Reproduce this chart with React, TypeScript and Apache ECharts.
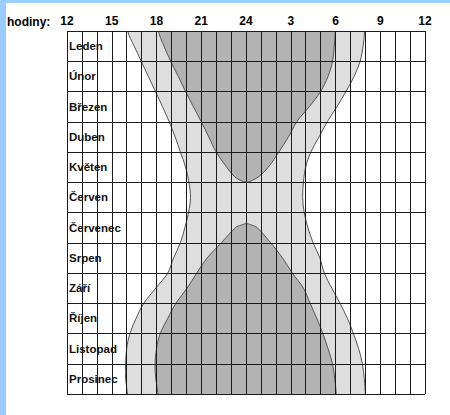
import React, { useEffect, useRef } from "react";
import * as echarts from "echarts";

const months = ["Leden", "Únor", "Březen", "Duben", "Květen", "Červen", "Červenec", "Srpen", "Září", "Říjen", "Listopad", "Prosinec"];
const hourTicks = ["12", "15", "18", "21", "24", "3", "6", "9", "12"];

// [hours after noon, month position (0 = 1 Jan, 12 = 31 Dec)]
const sunset = [
  [4.07, 0], [4.5, 0.5], [4.98, 1], [5.45, 1.5], [5.93, 2], [6.4, 2.5], [6.85, 3], [7.25, 3.5],
  [7.6, 4], [7.95, 4.5], [8.17, 5], [8.28, 5.5], [8.15, 6], [7.9, 6.5], [7.6, 7], [7.15, 7.5],
  [6.75, 8], [5.95, 8.5], [5.15, 9], [4.63, 9.5], [4.22, 10], [4.0, 10.5], [3.93, 11], [3.93, 11.5], [4.05, 12],
];
const sunrise = [
  [19.95, 0], [19.85, 0.5], [19.65, 1], [19.25, 1.5], [18.7, 2], [18.1, 2.5], [17.45, 3], [16.9, 3.5],
  [16.35, 4], [16.0, 4.5], [15.85, 5], [15.8, 5.5], [15.9, 6], [16.15, 6.5], [16.5, 7], [16.95, 7.5],
  [17.25, 8], [17.75, 8.5], [18.3, 9], [18.8, 9.5], [19.2, 10], [19.55, 10.5], [19.8, 11], [19.93, 11.5], [20.0, 12],
];
const nightStartFirst = [
  [6.13, 0], [6.5, 0.5], [6.95, 1], [7.46, 1.5], [7.95, 2], [8.47, 2.5], [9.0, 3], [9.5, 3.5],
  [10.0, 4], [10.7, 4.5], [11.2, 4.8], [11.6, 4.93], [12.04, 5.0],
];
const nightEndFirst = [
  [17.98, 0], [17.92, 0.5], [17.8, 1], [17.5, 1.5], [17.0, 2], [16.25, 2.5], [15.4, 3], [14.85, 3.5],
  [14.2, 4], [13.5, 4.5], [12.9, 4.8], [12.45, 4.93],
];
const nightStartSecond = [
  [12.04, 6.37], [11.65, 6.42], [11.3, 6.5], [10.35, 7], [9.4, 7.5], [8.7, 8], [8.05, 8.5], [7.3, 9],
  [6.75, 9.5], [6.25, 10], [6.0, 10.5], [5.9, 11], [5.95, 11.5], [6.1, 12],
];
const nightEndSecond = [
  [12.4, 6.42], [12.75, 6.5], [13.65, 7], [14.45, 7.5], [15.1, 8], [15.85, 8.5], [16.3, 9], [16.75, 9.5],
  [17.15, 10], [17.5, 10.5], [17.8, 11], [17.95, 11.5], [18.05, 12],
];

const EXT = 0.5;

function lightPolygon() {
  const rev = sunrise.slice().reverse();
  return [
    [sunset[0][0], -EXT],
    ...sunset,
    [sunset[sunset.length - 1][0], 12 + EXT],
    [sunrise[sunrise.length - 1][0], 12 + EXT],
    ...rev,
    [sunrise[0][0], -EXT],
  ];
}
function upperPolygon() {
  return [
    [nightStartFirst[0][0], -EXT],
    ...nightStartFirst,
    ...nightEndFirst.slice().reverse(),
    [nightEndFirst[0][0], -EXT],
  ];
}
function lowerPolygon() {
  return [
    ...nightStartSecond,
    [nightStartSecond[nightStartSecond.length - 1][0], 12 + EXT],
    [nightEndSecond[nightEndSecond.length - 1][0], 12 + EXT],
    ...nightEndSecond.slice().reverse(),
  ];
}

function makeSeries(poly: number[][], fill: string) {
  return {
    type: "custom",
    coordinateSystem: "cartesian2d",
    xAxisIndex: 0,
    yAxisIndex: 0,
    z: 2,
    silent: true,
    data: [[0, 0]],
    renderItem: (params: any, api: any) => {
      const pts = poly.map((p) => api.coord(p));
      const cs = params.coordSys;
      return {
        type: "group",
        clipPath: { type: "rect", shape: { x: cs.x, y: cs.y, width: cs.width, height: cs.height } },
        children: [
          {
            type: "polygon",
            shape: { points: pts, smooth: 0.35 },
            style: { fill, stroke: "#555", lineWidth: 1 },
          },
        ],
      };
    },
  };
}

export default function App() {
  const ref = useRef<HTMLDivElement>(null);
  useEffect(() => {
    const chart = echarts.init(ref.current as HTMLDivElement, null, { renderer: "svg" });
    const option: any = {
      animation: false,
      backgroundColor: "#ffffff",
      grid: { left: 67, top: 31, width: 358, height: 363, containLabel: false },
      xAxis: {
        type: "value",
        position: "top",
        min: 0,
        max: 24,
        interval: 1,
        z: 10,
        axisLine: { show: false, onZero: false },
        axisTick: { show: false },
        axisLabel: {
          show: true,
          margin: 4,
          showMinLabel: true,
          showMaxLabel: true,
          color: "#000",
          fontFamily: "Liberation Sans",
          fontWeight: "bold",
          fontSize: 12,
          formatter: (v: number) => (v % 3 === 0 ? hourTicks[v / 3] : ""),
        },
        splitLine: { show: true, lineStyle: { color: "#1a1a1a", width: 1 } },
      },
      yAxis: [
        {
          type: "value",
          min: 0,
          max: 12,
          interval: 1,
          inverse: true,
          z: 10,
          axisLine: { show: false, onZero: false },
          axisTick: { show: false },
          axisLabel: { show: false },
          splitLine: { show: true, lineStyle: { color: "#1a1a1a", width: 1 } },
        },
        {
          type: "category",
          data: months,
          inverse: true,
          position: "left",
          z: 11,
          axisLine: { show: false, onZero: false },
          axisTick: { show: false },
          splitLine: { show: false },
          axisLabel: {
            inside: true,
            margin: 2,
            color: "#111",
            fontFamily: "Liberation Sans",
            fontWeight: "bold",
            fontSize: 11.5,
          },
        },
      ],
      series: [
        makeSeries(lightPolygon(), "#dedede"),
        makeSeries(upperPolygon(), "#b3b3b3"),
        makeSeries(lowerPolygon(), "#b3b3b3"),
      ],
      graphic: [
        { type: "rect", shape: { x: 0, y: 0, width: 6, height: 415 }, style: { fill: "#99ccff" }, silent: true },
        { type: "rect", shape: { x: 0, y: 0, width: 450, height: 3 }, style: { fill: "#99ccff" }, silent: true },
        {
          type: "text",
          style: {
            x: 7,
            y: 22,
            text: "hodiny:",
            fill: "#000",
            font: "bold 12px 'Liberation Sans'",
            verticalAlign: "middle",
          },
          silent: true,
        },
      ],
    };
    chart.setOption(option);
    return () => chart.dispose();
  }, []);
  return (
    <div
      ref={ref}
      style={{ position: "fixed", left: 0, top: 0, width: 450, height: 415, background: "#fff" }}
    />
  );
}
